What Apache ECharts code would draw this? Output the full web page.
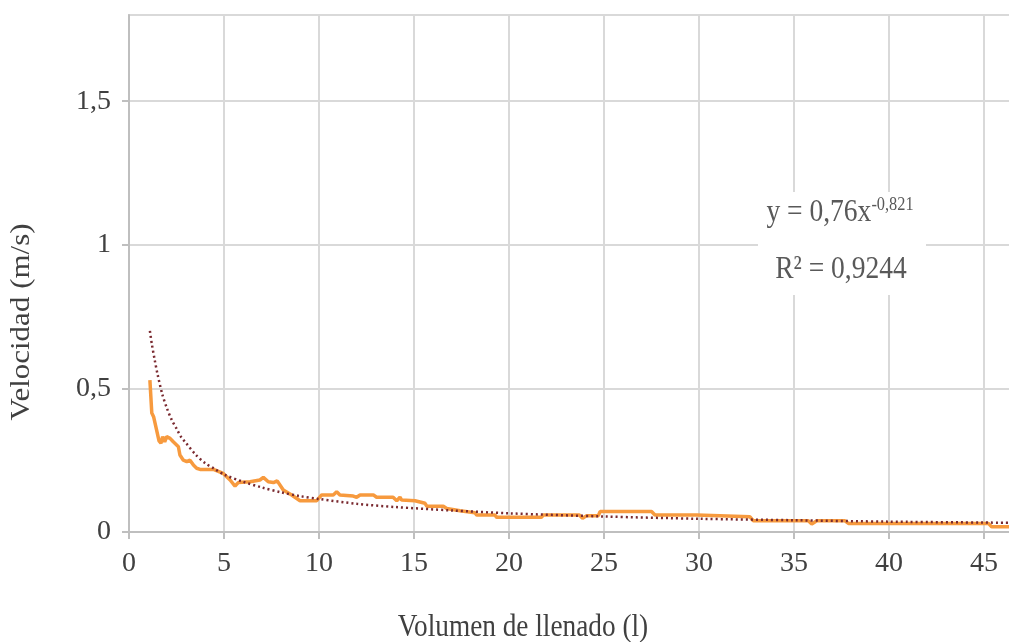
<!DOCTYPE html>
<html>
<head>
<meta charset="utf-8">
<script src="https://cdn.jsdelivr.net/npm/echarts@6/dist/echarts.min.js"></script>
<style>
  html, body { margin: 0; padding: 0; background: #fff; }
  #chart { width: 1009px; height: 642px; }
</style>
</head>
<body>
<div id="chart"></div>
<script>
// measured series (volumen in l, velocidad in m/s)
var volumen = [1.1, 1.2, 1.3, 1.58, 1.68, 1.77, 1.88, 1.98, 2.16, 2.33, 2.6, 2.68, 2.86, 3.04, 3.21, 3.39, 3.56, 3.74,
  4.44, 4.96, 5.32, 5.58, 5.75, 6.37, 6.89, 7.07, 7.33, 7.6, 7.8, 8.12, 8.56, 9.0, 9.88, 10.14, 10.75, 10.93, 11.1,
  11.8, 11.98, 12.16, 12.86, 13.03, 13.9, 14.09, 14.26, 14.35, 15.05, 15.58, 15.67, 16.54, 16.72, 17.42, 18.2, 18.3,
  19.26, 19.35, 21.7, 21.8, 23.7, 23.87, 24.09, 24.7, 24.79, 27.5, 27.68, 29.88, 29.97, 32.68, 32.86, 35.75, 35.93,
  36.2, 37.68, 37.86, 45.23, 45.4, 46.6];
var velocidad = [0.529, 0.414, 0.40, 0.317, 0.309, 0.332, 0.314, 0.332, 0.326, 0.314, 0.297, 0.268, 0.25, 0.245, 0.25,
  0.233, 0.222, 0.218, 0.218, 0.204, 0.181, 0.16, 0.172, 0.175, 0.181, 0.19, 0.175, 0.172, 0.178, 0.146, 0.129, 0.109,
  0.109, 0.129, 0.129, 0.140, 0.129, 0.125, 0.121, 0.129, 0.129, 0.121, 0.121, 0.109, 0.121, 0.111, 0.109, 0.100, 0.09,
  0.09, 0.082, 0.074, 0.067, 0.059, 0.059, 0.051, 0.051, 0.059, 0.059, 0.048, 0.057, 0.057, 0.071, 0.071, 0.059, 0.059,
  0.053, 0.053, 0.039, 0.039, 0.028, 0.039, 0.039, 0.030, 0.030, 0.018, 0.018];

// trend line (potential fit)
var trendX = [1.1, 1.2, 1.35, 1.5, 1.75, 2, 2.25, 2.5, 2.75, 3, 3.5, 4, 4.5, 5, 6, 7, 8, 9, 10, 12, 14, 17, 20, 25, 30,
  35, 40, 46.6];
var trendY = [0.70, 0.655, 0.60, 0.55, 0.48, 0.43, 0.39, 0.36, 0.33, 0.31, 0.27, 0.24, 0.22, 0.20, 0.175, 0.155, 0.138,
  0.125, 0.115, 0.098, 0.087, 0.075, 0.065, 0.054, 0.046, 0.041, 0.036, 0.032];

var yTickValues = [0, 0.5, 1, 1.5];
var yTickLabels = ['0', '0,5', '1', '1,5'];
var xTickValues = [0, 5, 10, 15, 20, 25, 30, 35, 40, 45];
var xTickLabels = ['0', '5', '10', '15', '20', '25', '30', '35', '40', '45'];

var ecuacion = 'y = 0,76x';
var exponente = '-0,821';
var r2Texto = 'R\u00B2 = 0,9244';
var xTitulo = 'Volumen de llenado (l)';
var yTitulo = 'Velocidad (m/s)';

var FONT = '"Liberation Serif", "Times New Roman", serif';

function pairs(xs, ys) {
  return xs.map(function (x, i) { return [x, ys[i]]; });
}

function lookup(vals, labels, v) {
  for (var i = 0; i < vals.length; i++) {
    if (Math.abs(vals[i] - v) < 1e-6) return labels[i];
  }
  return '';
}

var chart = echarts.init(document.getElementById('chart'));

var option = {
  animation: false,
  backgroundColor: '#fff',
  // right border pushed just off the canvas, the reference is cropped there
  grid: {
    left: 129, right: -3, top: 15, bottom: 110,
    outerBoundsMode: 'none',
    containLabel: false,
    show: true, borderColor: '#d9d9d9', borderWidth: 2
  },
  xAxis: {
    type: 'value',
    min: 0,
    max: 46.47,
    interval: 5,
    axisLine: { show: true, lineStyle: { color: '#bfbfbf', width: 2 } },
    axisTick: { show: true, length: 7, customValues: xTickValues, lineStyle: { color: '#bfbfbf', width: 2 } },
    splitLine: { show: true, lineStyle: { color: '#d9d9d9', width: 2 } },
    axisLabel: {
      margin: 18,
      color: '#404040',
      fontFamily: FONT,
      fontSize: 28,
      formatter: function (v) { return lookup(xTickValues, xTickLabels, v); }
    }
  },
  yAxis: {
    type: 'value',
    min: 0,
    max: 1.8,
    interval: 0.5,
    axisLine: { show: true, lineStyle: { color: '#bfbfbf', width: 2 } },
    axisTick: { show: true, length: 7, customValues: yTickValues, lineStyle: { color: '#bfbfbf', width: 2 } },
    splitLine: { show: true, lineStyle: { color: '#d9d9d9', width: 2 } },
    axisLabel: {
      margin: 18,
      color: '#404040',
      fontFamily: FONT,
      fontSize: 28,
      formatter: function (v) { return lookup(yTickValues, yTickLabels, v); }
    }
  },
  series: [
    {
      type: 'line',
      data: pairs(volumen, velocidad),
      showSymbol: false,
      lineStyle: { color: '#F79A3E', width: 3.5 },
      z: 2
    },
    {
      type: 'line',
      data: pairs(trendX, trendY),
      smooth: 0.3,
      showSymbol: false,
      lineStyle: { color: '#7a2a30', width: 2.5, type: [2, 3] },
      z: 3
    }
  ],
  graphic: [
    {
      type: 'rect',
      z: 100,
      shape: { x: 758, y: 192, width: 168, height: 103 },
      style: { fill: '#fff' }
    },
    {
      type: 'text',
      z: 101,
      x: 840,
      y: 213,
      scaleX: 0.86,
      style: {
        text: '{a|' + ecuacion + '}{s|' + exponente + '}',
        align: 'center',
        verticalAlign: 'middle',
        rich: {
          a: { fontFamily: FONT, fontSize: 32, fill: '#595959', lineHeight: 34 },
          s: { fontFamily: FONT, fontSize: 19, fill: '#595959', verticalAlign: 'top', lineHeight: 34, padding: [0, 0, 16, 0] }
        }
      }
    },
    {
      type: 'text',
      z: 101,
      x: 841,
      y: 270,
      scaleX: 0.86,
      style: {
        text: r2Texto,
        align: 'center',
        verticalAlign: 'middle',
        fontFamily: FONT,
        fontSize: 32,
        fill: '#595959'
      }
    },
    {
      type: 'text',
      z: 101,
      x: 523,
      y: 628,
      scaleX: 0.88,
      style: {
        text: xTitulo,
        align: 'center',
        verticalAlign: 'middle',
        fontFamily: FONT,
        fontSize: 31,
        fill: '#404040'
      }
    },
    {
      type: 'text',
      z: 101,
      x: 22,
      y: 322,
      rotation: Math.PI / 2,
      scaleY: 0.85,
      style: {
        text: yTitulo,
        align: 'center',
        verticalAlign: 'middle',
        fontFamily: FONT,
        fontSize: 31,
        fill: '#404040'
      }
    }
  ]
};

chart.setOption(option);
</script>
</body>
</html>
